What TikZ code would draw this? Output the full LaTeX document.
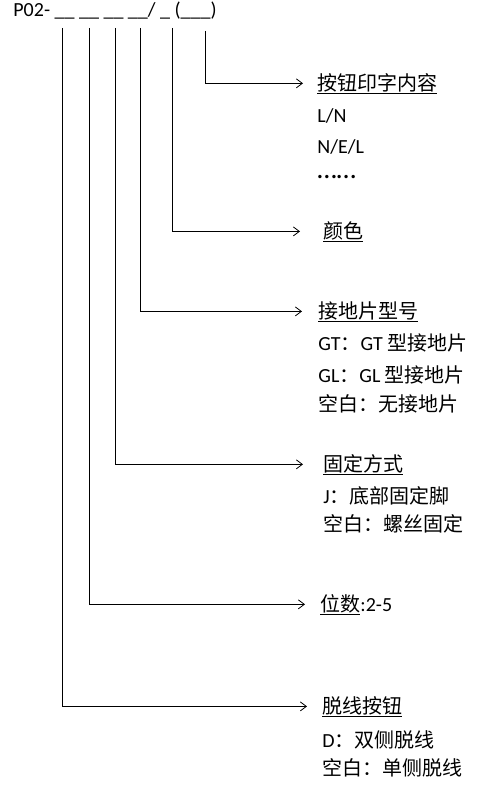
\documentclass[tikz,border=0pt]{standalone}
\usepackage{fontspec}
\setmainfont{Carlito}
\newfontfamily\cjk{Noto Sans CJK SC}
\newcommand{\zh}[1]{{\cjk #1}}
\usetikzlibrary{arrows.meta}
\begin{document}
\begin{tikzpicture}[x=1pt,y=-1pt,line width=0.8pt,>={Straight Barb[length=6pt,width=9pt]},
	head/.style={anchor=base west,inner xsep=14pt,inner ysep=0pt,font=\fontsize{20}{24}\selectfont},
	item/.style={anchor=base west,inner sep=0pt,font=\fontsize{20}{24}\selectfont}]
		\useasboundingbox (0,0) rectangle (485,792);
		
		%code
		\node[item](code) at (13,17) {P02- \_\_ \_\_ \_\_ \_\_/ \_ (\_\_\_)};
		\coordinate (s1) at (62,28);
		\coordinate (s2) at (89,28);
		\coordinate (s3) at (115,28);
		\coordinate (s4) at (140,28);
		\coordinate (s5) at (172,28);
		\coordinate (s6) at (205,31);
		
		%print
		\node[head](print) at (303,90) {\underline{\zh{按钮印字内容}}};
		\node[item](printa) at (317,122) {L/N};
		\node[item](printb) at (317,153) {N/E/L};
		\node[item,font=\fontsize{28}{30}\selectfont](printc) at (317,178) {……};
		%colour
		\node[head,inner xsep=23pt](color) at (300,238) {\underline{\zh{颜色}}};
		%earth
		\node[head,inner xsep=16pt](earth) at (302,318) {\underline{\zh{接地片型号}}};
		\node[item](eartha) at (318,350) {GT\zh{：}GT \zh{型接地片}};
		\node[item](earthb) at (318,382) {GL\zh{：}GL \zh{型接地片}};
		\node[item](earthc) at (318,411) {\zh{空白：无接地片}};
		%fixing
		\node[head,inner xsep=20pt](fix) at (303,471) {\underline{\zh{固定方式}}};
		\node[item](fixa) at (323,503) {J\zh{：底部固定脚}};
		\node[item](fixb) at (323,531) {\zh{空白：螺丝固定}};
		%poles
		\node[head,inner xsep=15pt](pos) at (305,611) {\underline{\zh{位数}}:2-5};
		%release
		\node[head,inner xsep=15pt](cut) at (307,713) {\underline{\zh{脱线按钮}}};
		\node[item](cuta) at (322,747) {D\zh{：双侧脱线}};
		\node[item](cutb) at (322,775) {\zh{空白：单侧脱线}};
		
		%arrows
		\draw[->] (s6) |- (print.west);
		\draw[->] (s5) |- (color.west);
		\draw[->] (s4) |- (earth.west);
		\draw[->] (s3) |- (fix.west);
		\draw[->] (s2) |- (pos.west);
		\draw[->] (s1) |- (cut.west);
\end{tikzpicture}
\end{document}
